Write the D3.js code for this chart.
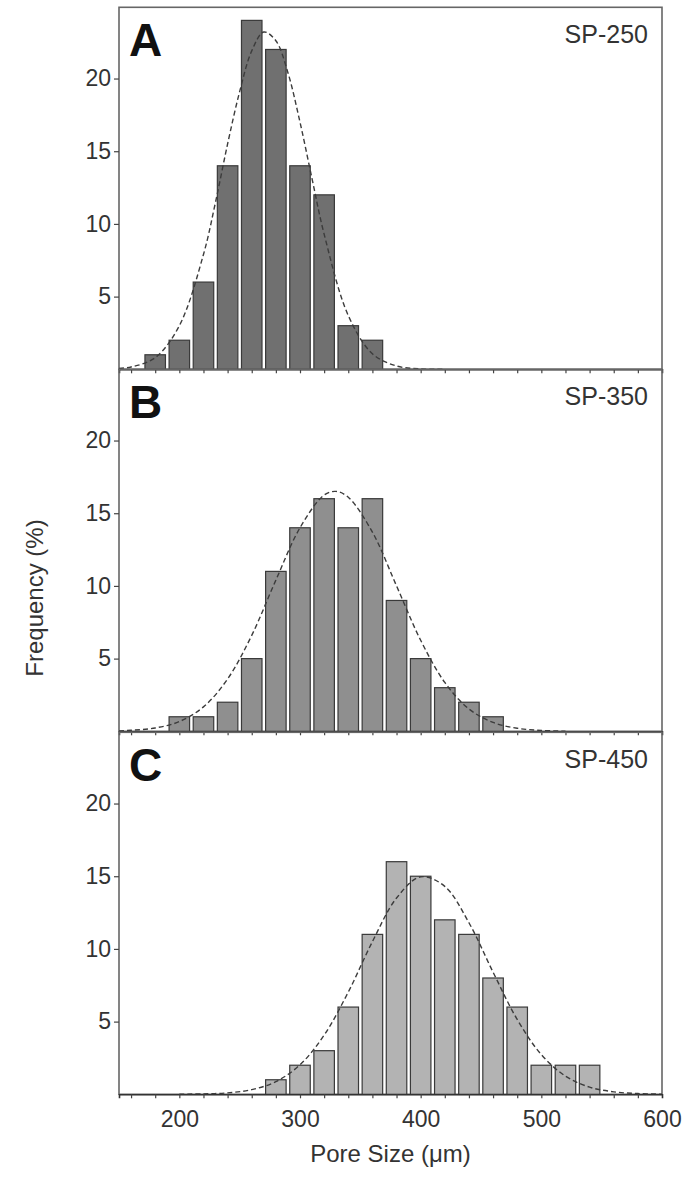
<!DOCTYPE html>
<html>
<head>
<meta charset="utf-8">
<script src="https://cdn.jsdelivr.net/npm/d3@7"></script>
<style>
  html, body { margin: 0; padding: 0; background: #fff; }
  svg { display: block; font-family: "Liberation Sans", Arial, Helvetica, sans-serif; }
</style>
</head>
<body>
<svg id="chart" width="687" height="1183"></svg>
<script>
// ---------------- data ----------------
const panelLetters = ["A", "B", "C"];
const sampleNames = ["SP-250", "SP-350", "SP-450"];

const sizesA = [180, 200, 220, 240, 260, 280, 300, 320, 340, 360];
const freqA  = [1, 2, 6, 14, 24, 22, 14, 12, 3, 2];

const sizesB = [200, 220, 240, 260, 280, 300, 320, 340, 360, 380, 400, 420, 440, 460];
const freqB  = [1, 1, 2, 5, 11, 14, 16, 14, 16, 9, 5, 3, 2, 1];

const sizesC = [280, 300, 320, 340, 360, 380, 400, 420, 440, 460, 480, 500, 520, 540];
const freqC  = [1, 2, 3, 6, 11, 16, 15, 12, 11, 8, 6, 2, 2, 2];

// fitted (dashed) curves
const fitXA = [150, 160, 180, 200, 220, 230, 240, 250, 260, 270, 280, 290, 300, 310, 320, 340, 360, 380, 400, 420];
const fitYA = [0.06, 0.16, 0.8, 3.0, 7.9, 11.5, 15.5, 19.1, 21.9, 23.2, 22.6, 20.4, 17.0, 13.1, 9.3, 3.7, 1.07, 0.23, 0.03, 0.0];

const fitXB = [150, 160, 180, 200, 220, 240, 260, 280, 300, 320, 330, 340, 360, 380, 400, 420, 440, 460, 480, 500, 520];
const fitYB = [0.03, 0.07, 0.23, 0.67, 1.68, 3.6, 6.6, 10.4, 14.0, 16.25, 16.5, 16.1, 13.7, 10.0, 6.26, 3.36, 1.54, 0.61, 0.21, 0.06, 0.01];

const fitXC = [200, 220, 240, 260, 280, 300, 320, 340, 360, 380, 400, 420, 440, 460, 480, 500, 520, 540, 560, 580, 600];
const fitYC = [0.01, 0.03, 0.10, 0.32, 0.87, 2.03, 4.07, 7.03, 10.5, 13.5, 14.96, 14.3, 11.8, 8.4, 5.15, 2.73, 1.25, 0.49, 0.17, 0.05, 0.01];

const binWidth = 20;
const xDomain = [150, 600];
const yDomain = [0, 24.9];
const xTickLabels = [200, 300, 400, 500, 600];
const xMinorTicks = [160, 180, 200, 220, 240, 260, 280, 300, 320, 340, 360, 380, 400, 420, 440, 460, 480, 500, 520, 540, 560, 580];
const yTickValues = [5, 10, 15, 20];
const xTitle = "Pore Size  (\u03bcm)";
const yTitle = "Frequency (%)";

// ---------------- layout ----------------
const left = 119, right = 662;
const panelTops = [7.3, 369.3, 732.3];
const panelH = 362;
const fills = ["#707070", "#8f8f8f", "#b3b3b3"];

const svg = d3.select("#chart");
const x = d3.scaleLinear().domain(xDomain).range([left, right]);

const panels = [
  { sizes: sizesA, freq: freqA, fx: fitXA, fy: fitYA },
  { sizes: sizesB, freq: freqB, fx: fitXB, fy: fitYB },
  { sizes: sizesC, freq: freqC, fx: fitXC, fy: fitYC }
];

panels.forEach((p, i) => {
  const top = panelTops[i];
  const bottom = top + panelH;
  const y = d3.scaleLinear().domain(yDomain).range([bottom, top]);
  const g = svg.append("g");

  // frame
  g.append("rect")
    .attr("x", left).attr("y", top)
    .attr("width", right - left).attr("height", bottom - top)
    .attr("fill", "none").attr("stroke", "#666").attr("stroke-width", 1.6);

  // bars
  const bw = x(xDomain[0] + binWidth * 0.85) - x(xDomain[0]);
  g.selectAll("rect.bar")
    .data(p.sizes.map((s, k) => ({ s, f: p.freq[k] })))
    .join("rect")
    .attr("class", "bar")
    .attr("x", d => x(d.s) - bw / 2)
    .attr("y", d => y(d.f))
    .attr("width", bw)
    .attr("height", d => y(0) - y(d.f))
    .attr("fill", fills[i])
    .attr("stroke", "#3a3a3a")
    .attr("stroke-width", 1.2);

  // fitted curve
  const line = d3.line()
    .x(d => x(d[0])).y(d => y(d[1]))
    .curve(d3.curveCatmullRom.alpha(0.5));
  g.append("path")
    .datum(p.fx.map((v, k) => [v, p.fy[k]]))
    .attr("d", line)
    .attr("fill", "none")
    .attr("stroke", "#3c3c3c")
    .attr("stroke-width", 1.4)
    .attr("stroke-dasharray", "5,3");

  // bottom axis (minor ticks)
  const xAxis = d3.axisBottom(x).tickValues(xMinorTicks).tickSize(4).tickFormat("");
  const gx = g.append("g").attr("transform", `translate(0,${bottom})`).call(xAxis);
  gx.select(".domain").attr("stroke", "#333").attr("stroke-width", 1.6);
  gx.selectAll(".tick line").attr("stroke", "#444").attr("stroke-width", 1.2);

  // y axis
  const yAxis = d3.axisLeft(y).tickValues(yTickValues).tickSize(5).tickPadding(3);
  const gy = g.append("g").attr("transform", `translate(${left},0)`).call(yAxis);
  gy.select(".domain").remove();
  gy.selectAll(".tick line").attr("stroke", "#444").attr("stroke-width", 1.2);
  gy.selectAll(".tick text")
    .attr("fill", "#333")
    .style("font-size", "23px")
    .style("font-family", "'Liberation Sans', Arial, sans-serif");

  // panel letter
  g.append("text")
    .attr("x", 129).attr("y", top + 49)
    .attr("font-size", 46).attr("font-weight", "bold")
    .attr("fill", "#111")
    .text(panelLetters[i]);

  // sample name
  g.append("text")
    .attr("x", 648).attr("y", top + 36)
    .attr("text-anchor", "end")
    .attr("font-size", 25)
    .attr("fill", "#333")
    .text(sampleNames[i]);

  if (i === panels.length - 1) {
    const labAxis = d3.axisBottom(x).tickValues(xTickLabels).tickSize(0).tickPadding(12);
    const gl = g.append("g").attr("transform", `translate(0,${bottom + 4})`).call(labAxis);
    gl.select(".domain").remove();
    gl.selectAll(".tick text")
      .attr("fill", "#333")
      .style("font-size", "23px")
      .style("font-family", "'Liberation Sans', Arial, sans-serif");
  }
});

// axis titles
svg.append("text")
  .attr("x", (left + right) / 2).attr("y", 1162)
  .attr("text-anchor", "middle")
  .attr("font-size", 24)
  .attr("fill", "#333")
  .text(xTitle);

svg.append("text")
  .attr("transform", `translate(43,598) rotate(-90)`)
  .attr("text-anchor", "middle")
  .attr("font-size", 24)
  .attr("fill", "#333")
  .text(yTitle);
</script>
</body>
</html>
